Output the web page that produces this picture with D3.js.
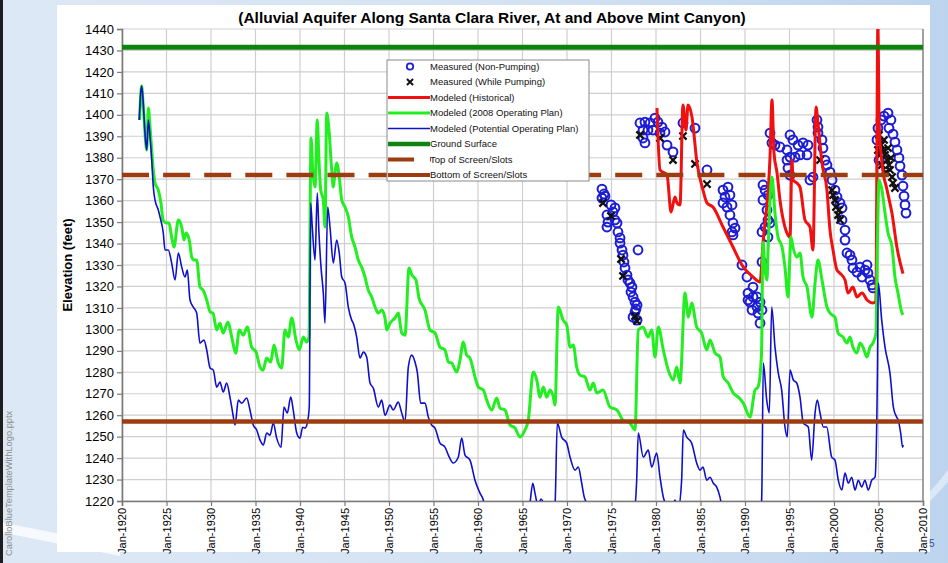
<!DOCTYPE html>
<html>
<head>
<meta charset="utf-8">
<script src="https://cdn.jsdelivr.net/npm/d3@7"></script>
<style>
  body { margin: 0; overflow: hidden; background: #fff; }
  svg { display: block; font-family: Arial, "Liberation Sans", sans-serif; }
</style>
</head>
<body>
<svg id="chart" width="948" height="563"></svg>
<script>
// ---- Chart data -------------------------------------------------------
const yearTicks = d3.range(1920, 2011, 5);
const elevationTicks = d3.range(1220, 1441, 10);

const groundSurface = 1431.5;
const topOfScreen = 1372;
const bottomOfScreen = 1257;

// Modeled (2008 Operating Plan): [decimal year, elevation ft]
const modeledPlan2008 = [
  [1921.97,1397.6],[1922.21,1413.4],[1922.42,1402.2],[1922.78,1383.6],[1922.96,1403.2],[1923.15,1394.3],
  [1923.52,1374.3],[1923.71,1368.2],[1924.08,1364.9],[1924.38,1358.9],[1924.61,1351.0],[1925.02,1349.6],
  [1925.28,1349.6],[1925.58,1343.0],[1925.84,1338.4],[1926.33,1351.0],[1926.71,1347.7],[1926.97,1341.6],
  [1927.19,1344.9],[1927.56,1341.6],[1927.83,1333.7],[1928.09,1332.3],[1928.39,1332.3],[1928.76,1319.7],
  [1929.10,1318.3],[1929.52,1313.7],[1929.89,1308.2],[1930.22,1307.6],[1930.64,1299.7],[1931.01,1302.9],
  [1931.35,1298.3],[1931.91,1303.4],[1932.33,1296.4],[1932.78,1288.9],[1933.18,1299.7],[1933.63,1297.3],
  [1934.08,1301.1],[1934.57,1291.7],[1935.06,1289.4],[1935.51,1282.4],[1935.84,1281.0],[1936.26,1286.6],
  [1936.71,1284.8],[1937.08,1292.7],[1937.56,1284.3],[1937.94,1282.0],[1938.31,1299.7],[1938.69,1296.4],
  [1939.07,1305.3],[1939.55,1295.0],[1939.92,1290.4],[1940.37,1296.4],[1940.75,1294.1],[1941.01,1296.4],
  [1941.24,1389.2],[1941.43,1374.3],[1941.69,1366.3],[1941.94,1397.6],[1942.13,1378.9],[1942.33,1364.9],
  [1942.62,1360.3],[1942.81,1347.7],[1943.00,1400.8],[1943.26,1392.9],[1943.56,1374.3],[1943.74,1366.3],
  [1943.93,1372.9],[1944.12,1377.5],[1944.41,1371.0],[1944.69,1360.3],[1945.06,1357.0],[1945.43,1352.4],
  [1945.81,1343.0],[1946.18,1338.4],[1946.55,1332.3],[1946.93,1329.0],[1947.30,1324.4],[1947.67,1318.3],
  [1948.06,1315.1],[1948.43,1310.4],[1948.80,1307.6],[1949.18,1309.0],[1949.55,1305.3],[1949.74,1299.7],
  [1950.11,1302.9],[1950.67,1305.3],[1951.04,1307.6],[1951.43,1298.3],[1951.80,1297.3],[1952.25,1328.6],
  [1952.58,1325.3],[1953.03,1323.0],[1953.37,1314.6],[1954.04,1309.0],[1954.61,1299.7],[1955.17,1298.3],
  [1955.73,1291.7],[1956.29,1290.4],[1956.67,1284.8],[1957.04,1284.3],[1957.61,1280.1],[1957.98,1285.7],
  [1958.35,1294.1],[1958.73,1288.0],[1959.10,1286.6],[1959.66,1277.8],[1960.03,1273.1],[1960.60,1271.7],
  [1960.98,1267.0],[1961.54,1262.4],[1962.10,1268.0],[1962.47,1263.3],[1963.03,1262.4],[1963.60,1255.4],
  [1964.16,1254.0],[1964.72,1249.8],[1965.28,1253.1],[1965.65,1257.7],[1966.21,1280.1],[1966.60,1276.4],
  [1966.97,1268.4],[1967.34,1273.1],[1967.72,1268.4],[1968.09,1271.7],[1968.46,1268.4],[1968.65,1264.7],
  [1969.02,1310.4],[1969.57,1304.3],[1969.97,1302.0],[1970.34,1291.7],[1970.71,1292.7],[1971.09,1282.4],
  [1971.46,1278.7],[1972.02,1277.8],[1972.58,1271.7],[1972.96,1275.0],[1973.34,1270.3],[1974.04,1271.7],
  [1974.83,1263.8],[1975.62,1262.4],[1976.29,1257.7],[1977.08,1256.3],[1977.64,1253.1],[1978.01,1299.7],
  [1978.54,1301.1],[1979.10,1296.4],[1979.52,1299.7],[1979.89,1287.1],[1980.26,1301.1],[1980.82,1290.4],
  [1981.38,1281.0],[1981.94,1276.4],[1982.33,1282.4],[1982.70,1275.0],[1983.26,1316.9],[1983.63,1305.7],
  [1984.01,1312.3],[1984.57,1301.1],[1985.13,1298.3],[1985.70,1290.4],[1986.07,1295.0],[1986.63,1289.0],
  [1987.19,1287.1],[1987.56,1277.8],[1988.12,1275.0],[1988.69,1270.3],[1989.25,1268.4],[1989.81,1265.6],
  [1990.56,1259.1],[1991.12,1271.7],[1991.46,1273.1],[1991.85,1288.0],[1992.02,1340.6],[1992.25,1327.6],
  [1992.47,1323.0],[1992.58,1335.6],[1993.03,1371.0],[1993.37,1354.2],[1993.71,1343.0],[1994.16,1338.4],
  [1994.49,1329.0],[1994.83,1315.1],[1995.17,1343.0],[1995.39,1338.4],[1995.84,1333.7],[1996.18,1335.6],
  [1996.52,1324.4],[1996.97,1319.7],[1997.53,1305.7],[1997.87,1321.6],[1998.20,1332.3],[1998.65,1323.0],
  [1999.21,1310.4],[1999.55,1307.6],[2000.11,1305.7],[2000.45,1298.3],[2001.01,1296.4],[2001.46,1293.6],
  [2001.80,1296.4],[2002.13,1291.7],[2002.58,1289.0],[2002.92,1293.6],[2003.26,1291.7],[2003.71,1287.1],
  [2004.04,1291.7],[2004.38,1293.6],[2004.72,1298.3],[2004.87,1338.4],[2005.06,1369.6],[2005.39,1364.9],
  [2005.73,1354.2],[2006.07,1344.9],[2006.52,1338.4],[2006.85,1324.4],[2007.19,1316.9],[2007.64,1307.6],
  [2007.75,1306.7]
];

// Modeled (Potential Operating Plan)
const modeledPotential = [
  [1921.94,1397.6],[1922.10,1410.2],[1922.21,1413.4],[1922.39,1405.5],[1922.58,1391.5],[1922.78,1383.6],
  [1922.96,1397.6],[1923.15,1389.7],[1923.34,1378.9],[1923.52,1366.3],[1923.71,1360.3],[1924.08,1355.6],
  [1924.27,1352.4],[1924.64,1344.9],[1924.83,1337.0],[1925.20,1337.0],[1925.58,1330.9],[1925.96,1323.0],
  [1926.33,1335.6],[1926.71,1329.0],[1927.08,1324.4],[1927.34,1327.6],[1927.64,1313.7],[1928.01,1310.4],
  [1928.39,1307.6],[1928.76,1293.6],[1929.21,1295.0],[1929.52,1290.4],[1929.89,1282.0],[1930.26,1281.0],
  [1930.64,1273.1],[1931.01,1275.4],[1931.38,1270.8],[1931.76,1275.0],[1932.13,1268.4],[1932.44,1261.0],
  [1932.70,1255.4],[1933.07,1267.0],[1933.45,1265.6],[1934.01,1268.0],[1934.38,1262.4],[1934.75,1255.4],
  [1935.13,1253.1],[1935.51,1248.4],[1935.88,1246.1],[1936.26,1251.7],[1936.63,1250.7],[1937.00,1256.3],
  [1937.38,1249.3],[1937.87,1245.1],[1938.20,1263.8],[1938.57,1261.0],[1938.96,1268.4],[1939.24,1262.4],
  [1939.63,1251.7],[1940.00,1249.3],[1940.30,1254.4],[1940.56,1254.0],[1940.82,1256.3],[1941.04,1263.8],
  [1941.20,1358.9],[1941.38,1347.7],[1941.69,1332.3],[1941.94,1363.5],[1942.13,1344.9],[1942.36,1329.0],
  [1942.62,1316.9],[1942.81,1302.9],[1943.11,1357.0],[1943.37,1347.7],[1943.74,1330.9],[1944.12,1341.6],
  [1944.41,1335.6],[1944.69,1324.4],[1945.06,1321.6],[1945.43,1310.4],[1945.81,1304.3],[1945.98,1302.9],
  [1946.37,1296.4],[1946.74,1286.6],[1947.11,1289.4],[1947.49,1287.1],[1947.87,1275.0],[1948.24,1272.6],
  [1948.80,1263.8],[1949.18,1267.0],[1949.55,1260.0],[1950.11,1264.7],[1950.48,1262.4],[1951.04,1266.1],
  [1951.43,1261.0],[1951.80,1256.8],[1952.17,1282.4],[1952.55,1288.0],[1952.92,1284.8],[1953.18,1280.1],
  [1953.56,1265.6],[1954.04,1265.6],[1954.42,1259.1],[1954.80,1255.4],[1955.17,1254.0],[1955.73,1247.0],
  [1956.29,1245.1],[1956.67,1241.4],[1957.22,1237.7],[1957.79,1240.5],[1958.17,1249.3],[1958.54,1241.4],
  [1959.10,1239.1],[1959.66,1229.7],[1960.22,1223.7],[1960.60,1220.4],[1960.90,1213.4],[1961.90,1206.0],
  [1963.50,1203.0],[1965.30,1211.0],[1965.84,1219.0],[1966.15,1228.3],[1966.40,1223.7],[1966.74,1218.0],
  [1967.08,1220.9],[1967.53,1217.6],[1968.30,1213.5],[1968.65,1218.0],[1968.91,1256.3],[1969.40,1249.8],
  [1969.97,1247.0],[1970.34,1240.5],[1970.90,1234.4],[1971.27,1235.8],[1971.65,1228.3],[1971.91,1222.3],
  [1972.36,1218.1],[1973.70,1211.0],[1975.95,1213.4],[1977.64,1218.0],[1977.83,1229.7],[1978.01,1251.7],
  [1978.57,1240.5],[1979.13,1243.7],[1979.52,1235.8],[1980.08,1242.3],[1980.45,1231.1],[1980.82,1221.8],
  [1981.20,1218.0],[1981.80,1215.8],[1982.13,1220.4],[1982.47,1215.8],[1982.88,1229.7],[1983.07,1253.1],
  [1983.45,1249.8],[1984.01,1247.0],[1984.57,1237.7],[1984.94,1234.4],[1985.28,1235.8],[1985.70,1229.7],
  [1986.07,1231.1],[1986.44,1228.3],[1986.82,1226.5],[1987.19,1221.8],[1987.38,1218.0],[1988.90,1206.4],
  [1990.56,1202.0],[1991.69,1211.0],[1991.88,1221.8],[1992.06,1284.3],[1992.44,1267.0],[1992.73,1261.0],
  [1993.00,1310.4],[1993.37,1291.7],[1993.74,1279.6],[1994.12,1271.7],[1994.49,1254.5],[1994.75,1249.8],
  [1995.06,1281.0],[1995.43,1276.4],[1995.81,1275.0],[1996.18,1268.4],[1996.55,1256.3],[1997.11,1254.5],
  [1997.49,1239.1],[1997.87,1261.0],[1998.12,1267.0],[1998.43,1261.0],[1998.80,1254.5],[1999.18,1254.5],
  [1999.74,1240.5],[2000.11,1239.1],[2000.48,1229.7],[2000.87,1225.1],[2001.24,1233.0],[2001.61,1228.3],
  [2001.99,1231.1],[2002.36,1225.1],[2002.73,1229.7],[2003.11,1226.5],[2003.48,1229.7],[2003.85,1225.1],
  [2004.24,1229.7],[2004.61,1231.1],[2004.87,1276.4],[2004.98,1321.6],[2005.36,1304.3],[2005.73,1291.7],
  [2006.29,1279.6],[2006.67,1263.8],[2007.04,1259.1],[2007.22,1257.7],[2007.49,1251.7],[2007.71,1245.1],
  [2007.78,1246.1]
];

// Modeled (Historical)
const modeledHistorical = [
  [1980.11,1403.2],[1980.45,1374.3],[1981.24,1371.9],[1981.69,1354.7],[1982.13,1361.7],[1982.36,1358.9],
  [1982.70,1358.0],[1983.03,1404.6],[1983.37,1392.9],[1983.60,1404.6],[1984.04,1399.0],[1984.61,1377.5],
  [1985.28,1364.9],[1985.73,1358.9],[1986.40,1357.0],[1987.53,1347.7],[1988.65,1338.4],[1989.66,1330.0],
  [1990.90,1324.4],[1991.69,1322.1],[1992.02,1340.2],[1992.81,1380.3],[1993.03,1406.9],[1993.26,1382.2],
  [1993.60,1372.9],[1993.93,1360.3],[1994.49,1347.7],[1994.72,1344.9],[1995.06,1343.0],[1995.28,1378.9],
  [1995.39,1369.6],[1995.84,1368.2],[1996.18,1366.3],[1996.74,1351.0],[1997.30,1347.7],[1997.64,1337.0],
  [1997.98,1403.6],[1998.20,1396.2],[1998.65,1377.5],[1999.21,1364.9],[1999.55,1346.3],[1999.89,1337.0],
  [2000.34,1327.6],[2000.67,1326.2],[2001.24,1323.0],[2001.57,1316.9],[2002.13,1319.7],[2002.58,1315.1],
  [2003.15,1316.9],[2003.71,1313.7],[2004.38,1312.3],[2004.70,1313.0],[2004.93,1442.0],[2005.08,1395.0],
  [2005.39,1377.5],[2005.96,1365.0],[2006.52,1354.0],[2007.08,1338.0],[2007.75,1326.0]
];

// Measured (Non-Pumping)
const measuredNonPumping = [
  [1973.93,1365.4],[1974.16,1363.1],[1973.93,1361.2],[1974.27,1362.1],[1974.94,1358.0],[1975.39,1356.6],
  [1975.17,1354.7],[1974.49,1353.3],[1974.61,1350.0],[1974.49,1347.7],[1975.39,1351.0],[1975.62,1349.6],
  [1975.73,1345.4],[1975.96,1342.6],[1975.96,1340.2],[1976.18,1337.0],[1976.29,1334.6],[1977.98,1337.0],
  [1976.40,1331.4],[1976.52,1328.6],[1976.74,1325.3],[1976.85,1323.0],[1977.08,1321.6],[1977.30,1319.7],
  [1977.19,1317.4],[1977.42,1315.1],[1977.64,1312.7],[1977.87,1311.3],[1977.75,1309.5],[1977.64,1308.1],
  [1977.42,1305.7],[1977.87,1304.3],
  [1978.20,1396.2],[1978.76,1396.6],[1979.33,1396.2],[1979.89,1398.5],[1980.22,1396.6],[1980.67,1394.3],
  [1978.54,1392.9],[1979.10,1392.9],[1979.66,1392.9],[1978.76,1386.9],[1978.54,1389.2],[1980.45,1391.5],
  [1981.01,1392.0],[1981.24,1385.9],[1981.91,1382.7],
  [1983.03,1396.2],[1984.38,1393.8],[1985.73,1374.3],
  [1987.53,1364.9],[1988.09,1366.3],[1987.75,1361.7],[1988.31,1362.6],[1987.53,1358.9],[1987.98,1357.0],
  [1988.54,1358.0],[1988.31,1353.3],[1988.65,1349.6],[1988.88,1347.2],[1988.54,1345.4],[1988.65,1344.0],
  [1989.66,1330.0],[1990.22,1324.4],[1990.34,1316.9],[1990.56,1312.7],[1990.90,1319.7],[1990.79,1309.0],
  [1991.35,1310.4],[1991.46,1307.6],[1991.69,1302.9],[1990.34,1313.7],[1990.90,1315.1],[1991.35,1315.1],
  [1991.69,1312.7],[1991.91,1309.0],[1991.91,1331.4],[1992.02,1367.3],[1992.25,1364.9],[1992.02,1360.3],
  [1992.58,1362.6],[1992.47,1355.6],[1992.58,1351.0],[1992.25,1347.7],[1992.81,1349.6],[1991.91,1345.4],
  [1992.58,1343.0],
  [1992.81,1391.5],[1993.03,1386.9],[1993.37,1385.9],[1993.93,1385.0],[1994.72,1383.6],[1995.06,1390.6],
  [1995.39,1388.3],[1995.96,1385.9],[1996.52,1386.9],[1997.08,1385.9],[1995.06,1380.3],[1995.62,1380.3],
  [1996.18,1381.3],[1996.97,1381.3],[1994.72,1378.9],[1994.83,1375.2],[1995.06,1371.9],[1997.30,1369.6],
  [1997.64,1371.0],[1998.09,1397.6],[1998.20,1394.3],[1998.20,1391.5],[1998.65,1388.3],[1998.76,1384.5],
  [1998.99,1378.9],[1999.21,1376.6],[1999.55,1373.3],[1999.78,1369.6],[2000.11,1364.9],[2000.34,1361.7],
  [2000.67,1358.9],[2000.90,1356.6],[2000.90,1351.0],[2001.24,1346.3],[2001.24,1341.6],[2001.46,1335.6],
  [2001.80,1334.6],[2002.02,1332.3],[2002.13,1328.6],[2002.58,1326.7],[2002.92,1329.0],[2003.15,1324.4],
  [2003.48,1327.6],[2003.71,1330.0],[2003.82,1326.2],[2004.04,1323.0],[2004.27,1320.7],[2004.38,1319.3],
  [2004.83,1388.3],[2004.94,1393.8],[2005.28,1397.6],[2005.62,1399.4],[2006.07,1400.8],[2006.40,1397.6],
  [2006.18,1393.8],[2006.63,1391.0],[2006.85,1387.3],[2007.08,1383.6],[2007.30,1379.9],[2007.42,1376.1],
  [2007.64,1371.9],[2007.75,1366.8],[2007.87,1362.1],[2007.98,1358.0],[2008.09,1354.2],[2005.06,1378.9]
];

// Measured (While Pumping)
const measuredPumping = [
  [1974.04,1358.9],[1974.94,1352.8],[1976.07,1332.8],[1976.29,1324.9],[1977.64,1306.2],[1977.87,1303.9],
  [1978.20,1390.6],[1980.45,1389.2],[1981.91,1378.9],
  [1983.03,1390.1],[1984.38,1377.1],[1985.73,1367.7],
  [1998.43,1378.9],[1999.78,1364.9],[1999.89,1362.6],[2000.11,1360.3],[2000.22,1357.0],[2000.45,1353.3],
  [2000.56,1355.6],[2000.67,1351.0],
  [2005.06,1390.6],[2005.28,1385.9],[2005.51,1383.6],[2005.73,1381.3],[2005.96,1378.9],[2006.18,1376.6],
  [2006.29,1374.3],[2006.52,1371.0],[2006.63,1368.2],[2006.85,1365.9],[2005.17,1381.3],[2005.39,1376.6],
  [2005.84,1373.3],[2005.62,1388.3],[2006.07,1384.5],[2004.94,1383.6],[2006.40,1379.9]
];

const legendItems = [
  { label: "Measured (Non-Pumping)", kind: "circle" },
  { label: "Measured (While Pumping)", kind: "cross" },
  { label: "Modeled (Historical)", kind: "line", color: "#f01010", width: 3 },
  { label: "Modeled (2008 Operating Plan)", kind: "line", color: "#22ee22", width: 3 },
  { label: "Modeled (Potential Operating Plan)", kind: "line", color: "#1010cc", width: 1.5 },
  { label: "Ground Surface", kind: "line", color: "#0e840e", width: 4.5 },
  { label: "Top of Screen/Slots", kind: "dash", color: "#9c3c10", width: 4 },
  { label: "Bottom of Screen/Slots", kind: "line", color: "#9c3c10", width: 4 }
];

// ---- Layout ----------------------------------------------------------
const W = 948, H = 563;
const plot = { left: 122, right: 923, top: 29, bottom: 501 };

const svg = d3.select("#chart");
const defs = svg.append("defs");

const bg = defs.append("linearGradient").attr("id", "slideBg")
  .attr("x1", 0).attr("y1", 0).attr("x2", 1).attr("y2", 0);
bg.append("stop").attr("offset", "0%").attr("stop-color", "#dde8f5");
bg.append("stop").attr("offset", "55%").attr("stop-color", "#d3e2f3");
bg.append("stop").attr("offset", "100%").attr("stop-color", "#bdd4ee");

defs.append("clipPath").attr("id", "plotClip")
  .append("rect")
  .attr("x", plot.left).attr("y", plot.top)
  .attr("width", plot.right - plot.left).attr("height", plot.bottom - plot.top);

// slide background
svg.append("rect").attr("width", W).attr("height", H).attr("fill", "url(#slideBg)");
svg.append("path")
  .attr("d", "M0,522 Q40,530 120,546 L120,556 Q40,540 0,532 Z")
  .attr("fill", "#ffffff").attr("opacity", 0.75);
svg.append("path")
  .attr("d", "M900,520 Q925,500 948,470 L948,482 Q925,508 900,528 Z")
  .attr("fill", "#ffffff").attr("opacity", 0.45);
svg.append("rect").attr("x", 0).attr("y", 0).attr("width", 3).attr("height", H).attr("fill", "#1d1d1d");

// white chart panel
svg.append("rect").attr("x", 57).attr("y", 5).attr("width", 873).attr("height", 547).attr("fill", "#ffffff");

// slide footer text
svg.append("text")
  .attr("transform", "translate(12,556) rotate(-90)")
  .attr("font-size", 9.3).attr("fill", "#8c8c8c")
  .text("CarolloBlueTemplateWithLogo.pptx");
svg.append("text")
  .attr("x", 929).attr("y", 547)
  .attr("font-size", 10).attr("fill", "#2456a8")
  .text("5");

// ---- Scales ----------------------------------------------------------
const x = d3.scaleLinear().domain([1920, 2010]).range([plot.left, plot.right]);
const y = d3.scaleLinear().domain([1220, 1440]).range([plot.bottom, plot.top]);

// gridlines
const grid = svg.append("g").attr("stroke", "#cfcfcf").attr("stroke-width", 1.2);
grid.selectAll("line.h").data(elevationTicks).join("line")
  .attr("x1", plot.left).attr("x2", plot.right)
  .attr("y1", d => y(d)).attr("y2", d => y(d));
grid.selectAll("line.v").data(yearTicks).join("line")
  .attr("y1", plot.top).attr("y2", plot.bottom)
  .attr("x1", d => x(d)).attr("x2", d => x(d));

// plot frame (right edge)
svg.append("line")
  .attr("x1", plot.right).attr("x2", plot.right)
  .attr("y1", plot.top).attr("y2", plot.bottom)
  .attr("stroke", "#8a8a8a").attr("stroke-width", 1.5);

// ---- Axes ------------------------------------------------------------
const yAxis = svg.append("g")
  .attr("transform", `translate(${plot.left},0)`)
  .call(d3.axisLeft(y).tickValues(elevationTicks).tickSize(5).tickPadding(3).tickFormat(d3.format("d")));
yAxis.select(".domain").attr("stroke", "#7a7a7a").attr("stroke-width", 1.6);
yAxis.selectAll(".tick line").attr("stroke", "#7a7a7a").attr("stroke-width", 1.2);
yAxis.selectAll("text").attr("font-size", 13).attr("font-family", "Arial, 'Liberation Sans', sans-serif").attr("fill", "#000");

const xAxis = svg.append("g")
  .attr("transform", `translate(0,${plot.bottom})`)
  .call(d3.axisBottom(x).tickValues(yearTicks).tickSize(5).tickFormat(d => "Jan-" + d));
xAxis.select(".domain").attr("stroke", "#7a7a7a").attr("stroke-width", 1.6);
xAxis.selectAll(".tick line").attr("stroke", "#7a7a7a").attr("stroke-width", 1.2);
xAxis.selectAll("text")
  .attr("transform", "rotate(-90)")
  .attr("x", -7).attr("y", 0).attr("dy", "0.35em")
  .style("text-anchor", "end")
  .attr("font-size", 11).attr("font-family", "Arial, 'Liberation Sans', sans-serif").attr("fill", "#000");

// axis title
svg.append("text")
  .attr("transform", "translate(72,265) rotate(-90)")
  .attr("text-anchor", "middle")
  .attr("font-size", 13).attr("font-weight", "bold")
  .text("Elevation (feet)");

// chart title
svg.append("text")
  .attr("x", 492).attr("y", 23)
  .attr("text-anchor", "middle")
  .attr("font-size", 15.5).attr("font-weight", "bold")
  .text("(Alluvial Aquifer Along Santa Clara River, At and Above Mint Canyon)");

// ---- Series ----------------------------------------------------------
const layer = svg.append("g").attr("clip-path", "url(#plotClip)");
const line = d3.line().x(d => x(d[0])).y(d => y(d[1])).curve(d3.curveMonotoneX);

const crossPath = "M-3.6,-3.6L3.6,3.6M-3.6,3.6L3.6,-3.6";

layer.append("g").selectAll("circle").data(measuredNonPumping).join("circle")
  .attr("cx", d => x(d[0])).attr("cy", d => y(d[1])).attr("r", 4.4)
  .attr("fill", "none").attr("stroke", "#1c1cd4").attr("stroke-width", 2);

layer.append("g").selectAll("path").data(measuredPumping).join("path")
  .attr("transform", d => `translate(${x(d[0])},${y(d[1])})`)
  .attr("d", crossPath)
  .attr("stroke", "#111").attr("stroke-width", 2.3).attr("fill", "none");

layer.append("path").datum(modeledHistorical)
  .attr("d", line).attr("fill", "none").attr("stroke", "#f01010").attr("stroke-width", 3)
  .attr("stroke-linejoin", "round");
layer.append("path").datum(modeledPlan2008)
  .attr("d", line).attr("fill", "none").attr("stroke", "#22ee22").attr("stroke-width", 3)
  .attr("stroke-linejoin", "round");
layer.append("path").datum(modeledPotential)
  .attr("d", line).attr("fill", "none").attr("stroke", "#1010cc").attr("stroke-width", 1.6)
  .attr("stroke-linejoin", "round");

// reference levels
layer.append("line")
  .attr("x1", plot.left).attr("x2", plot.right)
  .attr("y1", y(groundSurface)).attr("y2", y(groundSurface))
  .attr("stroke", "#0e840e").attr("stroke-width", 5);
layer.append("line")
  .attr("x1", plot.left).attr("x2", plot.right)
  .attr("y1", y(topOfScreen)).attr("y2", y(topOfScreen))
  .attr("stroke", "#9c3c10").attr("stroke-width", 4.5)
  .attr("stroke-dasharray", "27,14.1");
layer.append("line")
  .attr("x1", plot.left).attr("x2", plot.right)
  .attr("y1", y(bottomOfScreen)).attr("y2", y(bottomOfScreen))
  .attr("stroke", "#9c3c10").attr("stroke-width", 4.5);

// ---- Legend ----------------------------------------------------------
const legend = svg.append("g").attr("transform", "translate(387,60)");
legend.append("rect")
  .attr("width", 202).attr("height", 121)
  .attr("fill", "#fff").attr("stroke", "#8a8a8a").attr("stroke-width", 1);

const rowY = i => 6.5 + i * 15.5;
legendItems.forEach((item, i) => {
  const g = legend.append("g").attr("transform", `translate(0,${rowY(i)})`);
  if (item.kind === "circle") {
    g.append("circle").attr("cx", 23).attr("cy", 0).attr("r", 3.2)
      .attr("fill", "none").attr("stroke", "#1c1cd4").attr("stroke-width", 1.8);
  } else if (item.kind === "cross") {
    g.append("path").attr("transform", "translate(23,0) scale(0.85)").attr("d", crossPath)
      .attr("stroke", "#111").attr("stroke-width", 2.3);
  } else if (item.kind === "dash") {
    g.append("line").attr("x1", 1).attr("x2", 44).attr("y1", 0).attr("y2", 0)
      .attr("stroke", item.color).attr("stroke-width", item.width)
      .attr("stroke-dasharray", "26,16");
  } else {
    g.append("line").attr("x1", 1).attr("x2", 43).attr("y1", 0).attr("y2", 0)
      .attr("stroke", item.color).attr("stroke-width", item.width);
  }
  g.append("text").attr("x", 43).attr("y", 3.4)
    .attr("font-size", 9.5).attr("fill", "#111")
    .text(item.label);
});
</script>
</body>
</html>
